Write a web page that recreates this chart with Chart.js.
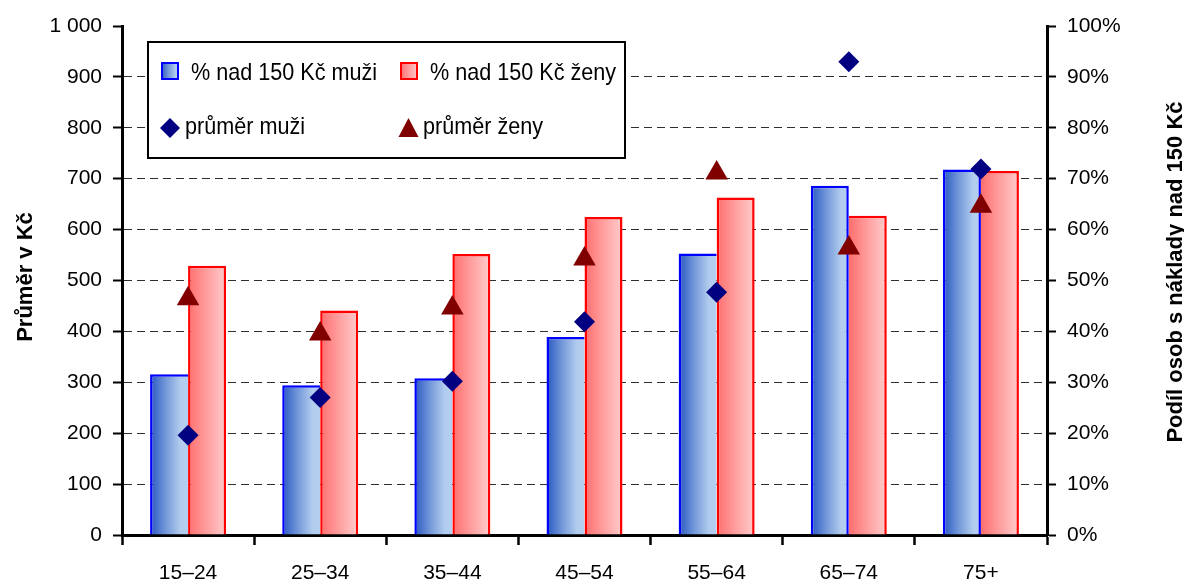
<!DOCTYPE html>
<html>
<head>
<meta charset="utf-8">
<script src="https://cdn.jsdelivr.net/npm/chart.js@4.4.1/dist/chart.umd.min.js"></script>
<style>
  html, body { margin: 0; padding: 0; background: #ffffff; }
  #wrap { width: 1184px; height: 582px; }
</style>
</head>
<body>
<div id="wrap"><canvas id="chart" width="1184" height="582"></canvas></div>
<script>
// Věkové skupiny
const categories = ['15–24', '25–34', '35–44', '45–54', '55–64', '65–74', '75+'];
// Podíl osob s náklady nad 150 Kč (%)
const podilMuzi = [31.6, 29.4, 30.8, 38.9, 55.3, 68.6, 71.8];
const podilZeny = [52.9, 44.1, 55.2, 62.5, 66.3, 62.7, 71.5];
// Průměrné náklady (Kč)
const prumerMuzi = [196, 270, 302, 419, 477, 930, 719];
const prumerZeny = [464, 395, 446, 542, 711, 564, 646];
// Popisky os
const prumerTicks = ['0', '100', '200', '300', '400', '500', '600', '700', '800', '900', '1 000'];
const podilTicks = ['0%', '10%', '20%', '30%', '40%', '50%', '60%', '70%', '80%', '90%', '100%'];
const seriesLabels = ['% nad 150 Kč muži', '% nad 150 Kč ženy', 'průměr muži', 'průměr ženy'];
const axisTitles = ['Průměr v Kč', 'Podíl osob s náklady nad 150 Kč'];

const FONT = "'Liberation Sans', Arial, sans-serif";
const CAT_PCT = 0.575;

const BLUE_STOPS = [[0, '#2858c2'], [0.45, '#7a9ddb'], [0.8, '#b1ccee'], [1, '#b5cff0']];
const RED_STOPS = [[0, '#ff6e6e'], [0.5, '#ff9f9f'], [1, '#ffcccc']];

function makeGradient(ctx, x0, x1, stops) {
  const g = ctx.createLinearGradient(x0, 0, x1, 0);
  stops.forEach(s => g.addColorStop(s[0], s[1]));
  return g;
}

// Horizontal gradient spanning the bar of the given series (0 = left bar, 1 = right bar)
function barFill(k) {
  return (c) => {
    const stops = k === 0 ? BLUE_STOPS : RED_STOPS;
    const xs = c.chart.scales.x;
    if (c.type !== 'data' || !xs) return stops[1][1];
    const center = xs.getPixelForValue(c.dataIndex);
    const w = xs.width / categories.length * CAT_PCT / 2;
    if (!isFinite(center) || !isFinite(w) || w <= 0) return stops[1][1];
    const x0 = k === 0 ? center - w : center;
    return makeGradient(c.chart.ctx, x0, x0 + w, stops);
  };
}

// Shared edge between the pair: draw it once, on the taller side's outline
function barBorder(k) {
  return (c) => {
    const i = c.dataIndex;
    const bw = 2.5;
    if (c.type !== 'data') return bw;
    const blueTaller = podilMuzi[i] > podilZeny[i];
    if (k === 0) return { top: bw, left: bw, bottom: 0, right: blueTaller ? bw : 0 };
    return { top: bw, right: bw, bottom: 0, left: blueTaller ? 0 : bw };
  };
}

function drawDiamond(ctx, x, y, r, color) {
  ctx.beginPath();
  ctx.moveTo(x - r, y); ctx.lineTo(x, y - r); ctx.lineTo(x + r, y); ctx.lineTo(x, y + r);
  ctx.closePath();
  ctx.fillStyle = color; ctx.fill();
}
function drawTriangle(ctx, cx, top, w, h, color) {
  ctx.beginPath();
  ctx.moveTo(cx, top); ctx.lineTo(cx + w / 2, top + h); ctx.lineTo(cx - w / 2, top + h);
  ctx.closePath();
  ctx.fillStyle = color; ctx.fill();
}

// Legend text is set slightly condensed
function condensedText(ctx, text, x, y, sx) {
  ctx.save();
  ctx.translate(x, y);
  ctx.scale(sx, 1);
  ctx.fillText(text, 0, 0);
  ctx.restore();
}

// Legend box inside the plot area and the two vertical axis titles
const decorations = {
  id: 'decorations',
  afterDraw(chart) {
    const ctx = chart.ctx;
    const ds = chart.data.datasets;
    ctx.save();
    // legend frame
    ctx.fillStyle = '#ffffff';
    ctx.fillRect(148, 42, 477, 116);
    ctx.lineWidth = 2;
    ctx.strokeStyle = '#000000';
    ctx.strokeRect(148, 42, 477, 116);

    // bar swatches
    const sw = [[161, 62, BLUE_STOPS, '#0000ff'], [400, 62, RED_STOPS, '#ff0000']];
    sw.forEach(s => {
      ctx.fillStyle = makeGradient(ctx, s[0], s[0] + 18, s[2]);
      ctx.fillRect(s[0], s[1], 18, 18);
      ctx.lineWidth = 2;
      ctx.strokeStyle = s[3];
      ctx.strokeRect(s[0] + 1, s[1] + 1, 16, 16);
    });
    // marker swatches
    drawDiamond(ctx, 170, 128, 10, '#000080');
    drawTriangle(ctx, 408.5, 118, 20, 19, '#800000');

    ctx.fillStyle = '#000000';
    ctx.font = '24px ' + FONT;
    ctx.textBaseline = 'alphabetic';
    ctx.textAlign = 'left';
    condensedText(ctx, ds[2].label, 191, 80, 0.9);
    condensedText(ctx, ds[3].label, 430, 80, 0.9);
    condensedText(ctx, ds[0].label, 185, 134, 0.9);
    condensedText(ctx, ds[1].label, 423, 134, 0.9);

    // axis titles, both reading bottom to top
    ctx.font = 'bold 22px ' + FONT;
    ctx.textAlign = 'center';
    ctx.textBaseline = 'middle';
    [[25.5, 277, axisTitles[0]], [1176, 272, axisTitles[1]]].forEach(t => {
      ctx.save();
      ctx.translate(t[0], t[1]);
      ctx.rotate(-Math.PI / 2);
      ctx.fillText(t[2], 0, 0);
      ctx.restore();
    });
    ctx.restore();
  }
};

const tickFont = { family: FONT, size: 21 };

new Chart(document.getElementById('chart'), {
  data: {
    labels: categories,
    datasets: [
      {
        type: 'line', label: seriesLabels[2], data: prumerMuzi, yAxisID: 'y',
        showLine: false, pointStyle: 'rectRot', pointRadius: 10.5, pointBorderWidth: 0,
        backgroundColor: '#000080', borderColor: '#000080'
      },
      {
        type: 'line', label: seriesLabels[3], data: prumerZeny, yAxisID: 'y',
        showLine: false, pointStyle: 'triangle', pointRadius: 13, pointBorderWidth: 0,
        backgroundColor: '#800000', borderColor: '#800000'
      },
      {
        type: 'bar', label: seriesLabels[0], data: podilMuzi, yAxisID: 'y1',
        backgroundColor: barFill(0), borderColor: '#0000ff', borderWidth: barBorder(0),
        categoryPercentage: CAT_PCT, barPercentage: 1
      },
      {
        type: 'bar', label: seriesLabels[1], data: podilZeny, yAxisID: 'y1',
        backgroundColor: barFill(1), borderColor: '#ff0000', borderWidth: barBorder(1),
        categoryPercentage: CAT_PCT, barPercentage: 1
      }
    ]
  },
  options: {
    responsive: false,
    animation: false,
    devicePixelRatio: 1,
    layout: { padding: { top: 26, left: 0, right: 0, bottom: 0 } },
    plugins: { legend: { display: false }, tooltip: { enabled: false } },
    scales: {
      x: {
        type: 'category',
        offset: true,
        grid: { offset: true, drawOnChartArea: false, drawTicks: true, tickLength: 10, tickColor: '#000000', tickWidth: 2.5 },
        border: { color: '#000000', width: 3 },
        ticks: { color: '#000000', font: tickFont, padding: 16, maxRotation: 0, autoSkip: false },
        afterFit: s => { s.height = 47; }
      },
      y: {
        position: 'left',
        min: 0, max: 1000,
        ticks: {
          stepSize: 100, color: '#000000', font: tickFont, padding: 11,
          callback: (v, i) => prumerTicks[i]
        },
        grid: {
          color: c => (c.tick && (c.tick.value === 0 || c.tick.value === 1000)) ? 'rgba(0,0,0,0)' : '#2e2e2e',
          lineWidth: 1,
          drawTicks: true, tickLength: 9, tickColor: '#000000', tickWidth: 2
        },
        border: { color: '#000000', width: 3, dash: [8, 5] },
        afterFit: s => { s.width = 122; }
      },
      y1: {
        position: 'right',
        min: 0, max: 100,
        ticks: {
          stepSize: 10, color: '#000000', font: tickFont, padding: 11,
          callback: (v, i) => podilTicks[i]
        },
        grid: { drawOnChartArea: false, drawTicks: true, tickLength: 9, tickColor: '#000000', tickWidth: 2 },
        border: { color: '#000000', width: 3 },
        afterFit: s => { s.width = 137; }
      }
    }
  },
  plugins: [decorations]
});
</script>
</body>
</html>
